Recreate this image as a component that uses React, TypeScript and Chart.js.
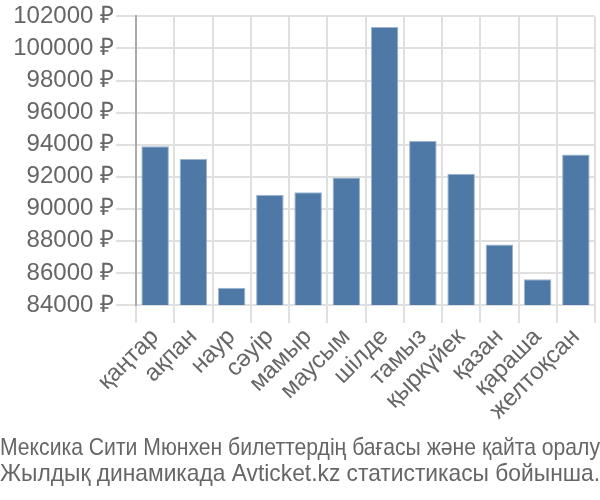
import React, { useEffect, useRef } from "react";
import { Chart, registerables } from "chart.js";

Chart.register(...registerables);

const months = ["қаңтар", "ақпан", "наур", "сәуір", "мамыр", "маусым", "шілде", "тамыз", "қыркүйек", "қазан", "қараша", "желтоқсан"];
const prices = [93900, 93100, 85070, 90870, 91030, 91950, 101340, 94220, 92190, 87770, 85610, 93390];
const titleLines = ["Мексика Сити Мюнхен билеттердің бағасы және қайта оралу", "Жылдық динамикада Avticket.kz статистикасы бойынша."];
const yMin = 84000;
const yMax = 102000;
const yStep = 2000;

export default function App() {
  const ref = useRef<HTMLCanvasElement | null>(null);
  useEffect(() => {
    document.body.style.margin = "0";
    const ctx = ref.current!;
    const font = "'Liberation Sans', Arial, sans-serif";
    const chart = new Chart(ctx, {
      type: "bar",
      data: {
        labels: months,
        datasets: [
          {
            data: prices,
            backgroundColor: "#4e79a7",
            borderColor: "#9db5cf",
            borderWidth: 1,
          },
        ],
      },
      options: {
        animation: false,
        responsive: false,
        layout: { padding: { top: 0, right: 0, left: 0, bottom: 0 } },
        plugins: {
          legend: { display: false },
          tooltip: { enabled: false },
          title: {
            display: true,
            position: "bottom",
            text: titleLines,
            color: "#666",
            font: { family: font, size: 24, weight: "normal", lineHeight: 1.1 },
            padding: { top: 10, bottom: 12 },
          },
        },
        scales: {
          x: {
            grid: { color: "#e0e0e0", lineWidth: 2, tickLength: 18 },
            border: { color: "#e0e0e0" },
            ticks: {
              color: "#666",
              font: { family: font, size: 24 },
              maxRotation: 45,
              minRotation: 45,
              autoSkip: false,
              padding: 0,
            },
          },
          y: {
            min: yMin,
            max: yMax,
            afterFit: (scale: any) => {
              scale.width = 136;
            },
            grid: { color: "#e0e0e0", lineWidth: 2, tickLength: 20 },
            border: { color: "#aaa", width: 2 },
            ticks: {
              stepSize: yStep,
              color: "#666",
              font: { family: font, size: 24 },
              padding: 2,
              callback: (v: any) => v + " ₽",
            },
          },
          yRight: {
            type: "linear",
            position: "right",
            display: true,
            min: yMin,
            max: yMax,
            afterFit: (scale: any) => {
              scale.width = 5;
            },
            grid: { display: false, drawTicks: false },
            border: { display: false },
            ticks: { display: false },
          },
        },
      },
    });
    return () => chart.destroy();
  }, []);
  return (
    <div style={{ width: 600, height: 500 }}>
      <canvas ref={ref} width={600} height={500} />
    </div>
  );
}
